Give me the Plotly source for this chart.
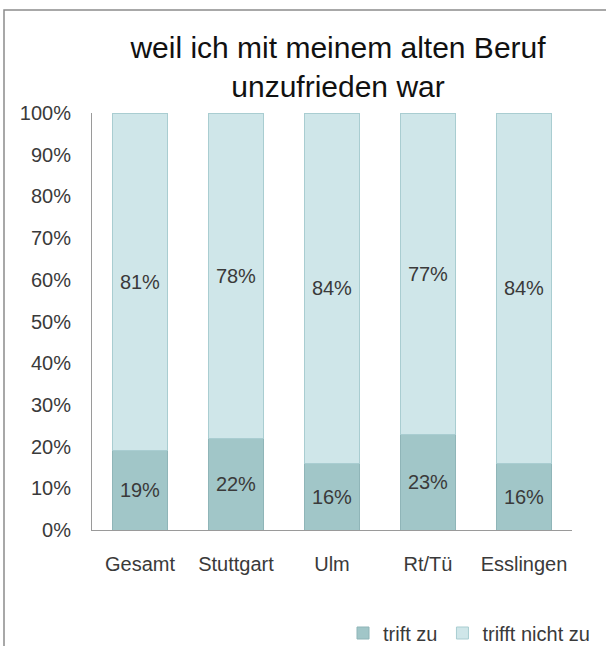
import plotly.graph_objects as go

categories = ["Gesamt", "Stuttgart", "Ulm", "Rt/Tü", "Esslingen"]
trifft_zu = [19, 22, 16, 23, 16]
trifft_nicht_zu = [81, 78, 84, 77, 84]
series_names = ["trift zu", "trifft nicht zu"]
tick_vals = [0, 10, 20, 30, 40, 50, 60, 70, 80, 90, 100]
tick_text = [f"{v}%" for v in tick_vals]

W, H = 606, 646
L, R, T, B = 92, 34, 113, 116
pw, ph = W - L - R, H - T - B

font = "Liberation Sans, Arial, sans-serif"
txt = "#3a3a3a"

fig = go.Figure()
fig.add_trace(go.Bar(
    x=categories, y=trifft_zu, name=series_names[0],
    marker=dict(color="#a1c6c8", line=dict(color="#8fb5b8", width=1)),
    text=[f"{v}%" for v in trifft_zu], textposition="inside",
    insidetextanchor="middle", textfont=dict(size=20, color=txt, family=font),
))
fig.add_trace(go.Bar(
    x=categories, y=trifft_nicht_zu, name=series_names[1],
    marker=dict(color="#cfe6e9", line=dict(color="#a9cdd1", width=1)),
    text=[f"{v}%" for v in trifft_nicht_zu], textposition="inside",
    insidetextanchor="middle", textfont=dict(size=20, color=txt, family=font),
))

def px_x(x):
    return (x - L) / pw

def px_y(y):
    return 1 - (y - T) / ph

fig.update_layout(
    width=W, height=H,
    barmode="stack", bargap=0.43,
    margin=dict(l=L, r=R, t=T, b=B, autoexpand=False),
    paper_bgcolor="white", plot_bgcolor="white",
    font=dict(family=font, color=txt, size=20),
    title=dict(text="weil ich mit meinem alten Beruf<br>unzufrieden war",
               xref="container", x=338 / W, xanchor="center",
               yref="container", y=1 - 58 / H, yanchor="middle",
               font=dict(size=30, color="#111111", family=font)),
    uniformtext=dict(minsize=10, mode="show"),
    showlegend=True,
    legend=dict(orientation="h", xref="container", x=343 / W, xanchor="left",
                yref="container", y=1 - 633 / H, yanchor="middle",
                font=dict(size=20, color=txt, family=font),
                itemwidth=30, traceorder="normal", tracegroupgap=0,
                bgcolor="rgba(0,0,0,0)"),
    xaxis=dict(showline=True, linecolor="#9a9a9a", linewidth=1,
               ticks="", ticklabelstandoff=16,
               tickfont=dict(size=20, color=txt), showgrid=False),
    yaxis=dict(range=[0, 100], tickvals=tick_vals, ticktext=tick_text,
               showline=True, linecolor="#9a9a9a", linewidth=1,
               showgrid=False, ticks="", ticklabelstandoff=16,
               tickfont=dict(size=20, color=txt), zeroline=False),
    shapes=[dict(type="rect", xref="paper", yref="paper",
                 x0=px_x(4), x1=px_x(640), y0=px_y(680), y1=px_y(10),
                 line=dict(color="#8c8c8c", width=1.5), layer="below")],
)

fig.write_html(
    "out.html",
    config={"displayModeBar": False},
    post_script="document.body.style.margin='0';document.body.style.overflow='hidden';",
)
